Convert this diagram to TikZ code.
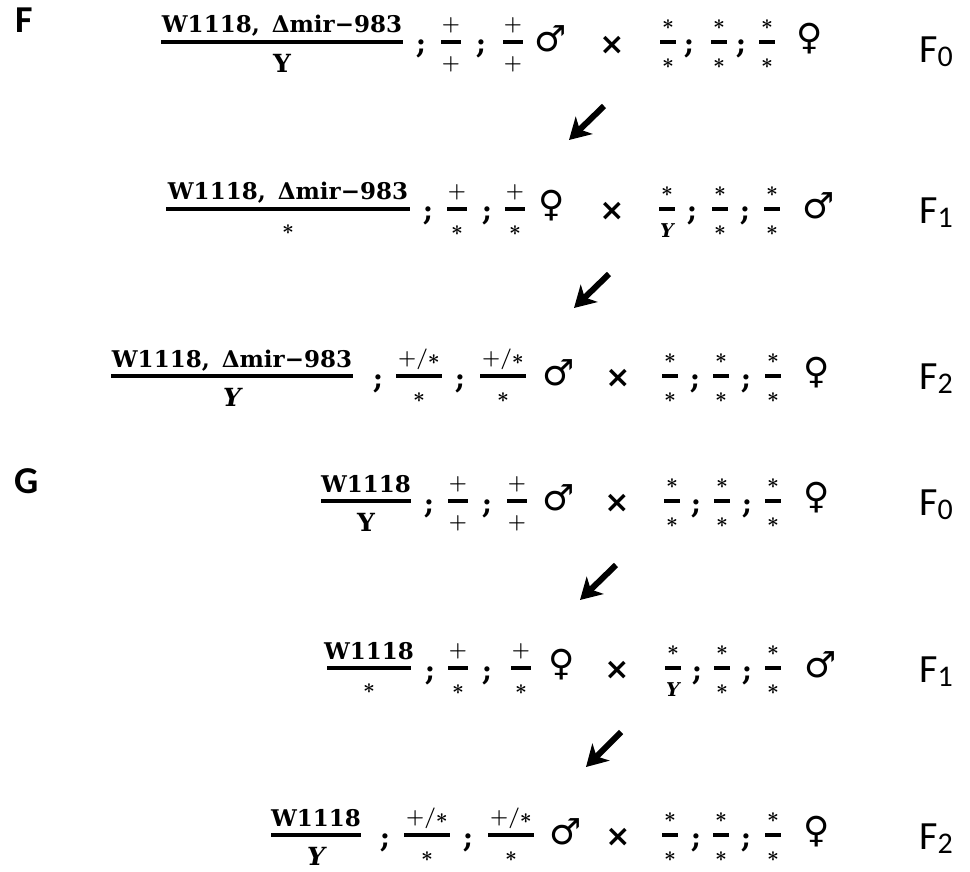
\documentclass[tikz,border=0pt]{standalone}
\usepackage{fontspec}
\setmainfont{DejaVu Serif}
\newfontfamily\symf{DejaVu Sans}
\newfontfamily\labf{Carlito}
\usetikzlibrary{arrows.meta}
\tikzset{
 gnum/.style={anchor=base, inner sep=0pt, font=\fontsize{23}{23}\selectfont\bfseries},
 gden/.style={anchor=center, inner sep=0pt, font=\fontsize{25}{25}\selectfont\bfseries},
 snum/.style={anchor=center, inner sep=0pt, font=\fontsize{22}{22}\selectfont\boldmath},
 semi/.style={anchor=base, inner sep=0pt, font=\fontsize{28}{28}\selectfont\bfseries},
 sex/.style={anchor=center, inner sep=0pt, font=\symf\bfseries\fontsize{36}{36}\selectfont},
 crs/.style={anchor=center, inner sep=0pt, font=\symf\bfseries\fontsize{30}{30}\selectfont},
 gen/.style={anchor=base west, inner sep=0pt, font=\labf\fontsize{40}{40}\selectfont},
 panel/.style={anchor=center, inner sep=0pt, font=\labf\bfseries\fontsize{38}{38}\selectfont},
 bar/.style={line width=4pt},
 sbar/.style={line width=3.5pt},
 cross arrow/.style={line width=6pt, -{Stealth[length=21pt,width=24pt,inset=6pt]}},
}
% long fraction: name, x, line y, numerator, denominator, half width, denominator style
\newcommand\lfr[7]{%
  \node[gnum] (#1n) at (#2,#3-9) {#4};
  \node[#7] (#1d) at (#2,#3+21) {#5};
  \draw[bar] (#2-#6,#3) -- (#2+#6,#3);}
% small fraction
\newcommand\sfr[6]{%
  \node[snum] (#1n) at (#2,#3-17) {#4};
  \node[snum] (#1d) at (#2,#3+22) {#5};
  \draw[sbar] (#2-#6,#3) -- (#2+#6,#3);}
\newcommand\semic[3]{\node[semi] (#1) at (#2,#3+12) {;};}
\newcommand\gl[4]{\node[gen] (#1) at (#2,#3) {F\raisebox{-4pt}{\fontsize{30}{30}\selectfont #4}};}
\newcommand\bigY{\bfseries Y}
\newcommand\itY{\bfseries\itshape Y}
\newcommand\smY{\fontsize{19}{19}\selectfont\bfseries\itshape Y}
\begin{document}
\begin{tikzpicture}[x=1pt,y=-1pt]
\useasboundingbox (0,0) rectangle (970,872);
% ===== Panel F =====
\node[panel] (pF) at (24,20) {F};
% F0
\lfr{fa}{282}{42}{W1118,\hspace{12pt}Δmir−983}{\bigY}{121}{gden}
\semic{fas1}{421}{42}
\sfr{fa1}{451}{42}{$+$}{$+$}{10}
\semic{fas2}{481}{42}
\sfr{fa2}{513}{42}{$+$}{$+$}{10}
\node[sex] (fam) at (551,39) {♂};
\node[crs] (fax) at (612,45) {×};
\sfr{fa3}{668}{42}{$\ast$}{$\ast$}{8}
\semic{fas3}{689}{42}
\sfr{fa4}{719}{42}{$\ast$}{$\ast$}{8}
\semic{fas4}{741}{42}
\sfr{fa5}{767}{42}{$\ast$}{$\ast$}{8}
\node[sex] (faf) at (810,39) {♀};
\gl{fag}{919}{63}{0}
\coordinate (a1s) at (604,106);
\coordinate (a1e) at (569,140);
\draw[cross arrow] (a1s) -- (a1e);
% F1
\lfr{fb}{288}{209}{W1118,\hspace{12pt}Δmir−983}{$\ast$}{122}{snum}
\semic{fbs1}{428}{209}
\sfr{fb1}{457}{209}{$+$}{$\ast$}{10}
\semic{fbs2}{487}{209}
\sfr{fb2}{515}{209}{$+$}{$\ast$}{10}
\node[sex] (fbf) at (552,206) {♀};
\node[crs] (fbx) at (612,211) {×};
\sfr{fb3}{667}{209}{$\ast$}{\smY}{8}
\semic{fbs3}{692}{209}
\sfr{fb4}{720}{209}{$\ast$}{$\ast$}{8}
\semic{fbs4}{745}{209}
\sfr{fb5}{772}{209}{$\ast$}{$\ast$}{8}
\node[sex] (fbm) at (819,206) {♂};
\gl{fbg}{919}{223}{1}
\coordinate (a2s) at (609,274);
\coordinate (a2e) at (574,308);
\draw[cross arrow] (a2s) -- (a2e);
% F2
\lfr{fc}{232}{376}{W1118,\hspace{12pt}Δmir−983}{\itY}{121}{gden}
\semic{fcs1}{378}{376}
\sfr{fc1}{419}{376}{$+/\ast$}{$\ast$}{23}
\semic{fcs2}{460}{376}
\sfr{fc2}{503}{376}{$+/\ast$}{$\ast$}{23}
\node[sex] (fcm) at (559,373) {♂};
\node[crs] (fcx) at (618,378) {×};
\sfr{fc3}{670}{376}{$\ast$}{$\ast$}{8}
\semic{fcs3}{695}{376}
\sfr{fc4}{721}{376}{$\ast$}{$\ast$}{8}
\semic{fcs4}{746}{376}
\sfr{fc5}{773}{376}{$\ast$}{$\ast$}{8}
\node[sex] (fcf) at (817,373) {♀};
\gl{fcg}{919}{389}{2}
% ===== Panel G =====
\node[panel] (pG) at (27,481) {G};
% G0
\lfr{ga}{366}{501}{W1118}{\bigY}{45}{gden}
\semic{gas1}{429}{501}
\sfr{ga1}{458}{501}{$+$}{$+$}{10}
\semic{gas2}{487}{501}
\sfr{ga2}{517}{501}{$+$}{$+$}{10}
\node[sex] (gam) at (559,498) {♂};
\node[crs] (gax) at (617,503) {×};
\sfr{ga3}{672}{501}{$\ast$}{$\ast$}{8}
\semic{gas3}{696}{501}
\sfr{ga4}{722}{501}{$\ast$}{$\ast$}{8}
\semic{gas4}{747}{501}
\sfr{ga5}{773}{501}{$\ast$}{$\ast$}{8}
\node[sex] (gaf) at (817,498) {♀};
\gl{gag}{919}{515}{0}
\coordinate (a3s) at (616,565);
\coordinate (a3e) at (580,600);
\draw[cross arrow] (a3s) -- (a3e);
% G1
\lfr{gb}{369}{668}{W1118}{$\ast$}{42}{snum}
\semic{gbs1}{430}{668}
\sfr{gb1}{458}{668}{$+$}{$\ast$}{10}
\semic{gbs2}{487}{668}
\sfr{gb2}{521}{668}{$+$}{$\ast$}{10}
\node[sex] (gbf) at (562,665) {♀};
\node[crs] (gbx) at (617,670) {×};
\sfr{gb3}{673}{668}{$\ast$}{\smY}{8}
\semic{gbs3}{697}{668}
\sfr{gb4}{722}{668}{$\ast$}{$\ast$}{8}
\semic{gbs4}{747}{668}
\sfr{gb5}{773}{668}{$\ast$}{$\ast$}{8}
\node[sex] (gbm) at (821,665) {♂};
\gl{gbg}{919}{682}{1}
\coordinate (a4s) at (621,732);
\coordinate (a4e) at (586,767);
\draw[cross arrow] (a4s) -- (a4e);
% G2
\lfr{gc}{316}{835}{W1118}{\itY}{45}{gden}
\semic{gcs1}{385}{835}
\sfr{gc1}{427}{835}{$+/\ast$}{$\ast$}{23}
\semic{gcs2}{468}{835}
\sfr{gc2}{511}{835}{$+/\ast$}{$\ast$}{23}
\node[sex] (gcm) at (566,832) {♂};
\node[crs] (gcx) at (618,837) {×};
\sfr{gc3}{670}{835}{$\ast$}{$\ast$}{8}
\semic{gcs3}{696}{835}
\sfr{gc4}{721}{835}{$\ast$}{$\ast$}{8}
\semic{gcs4}{746}{835}
\sfr{gc5}{773}{835}{$\ast$}{$\ast$}{8}
\node[sex] (gcf) at (817,832) {♀};
\gl{gcg}{919}{849}{2}
\end{tikzpicture}
\end{document}
